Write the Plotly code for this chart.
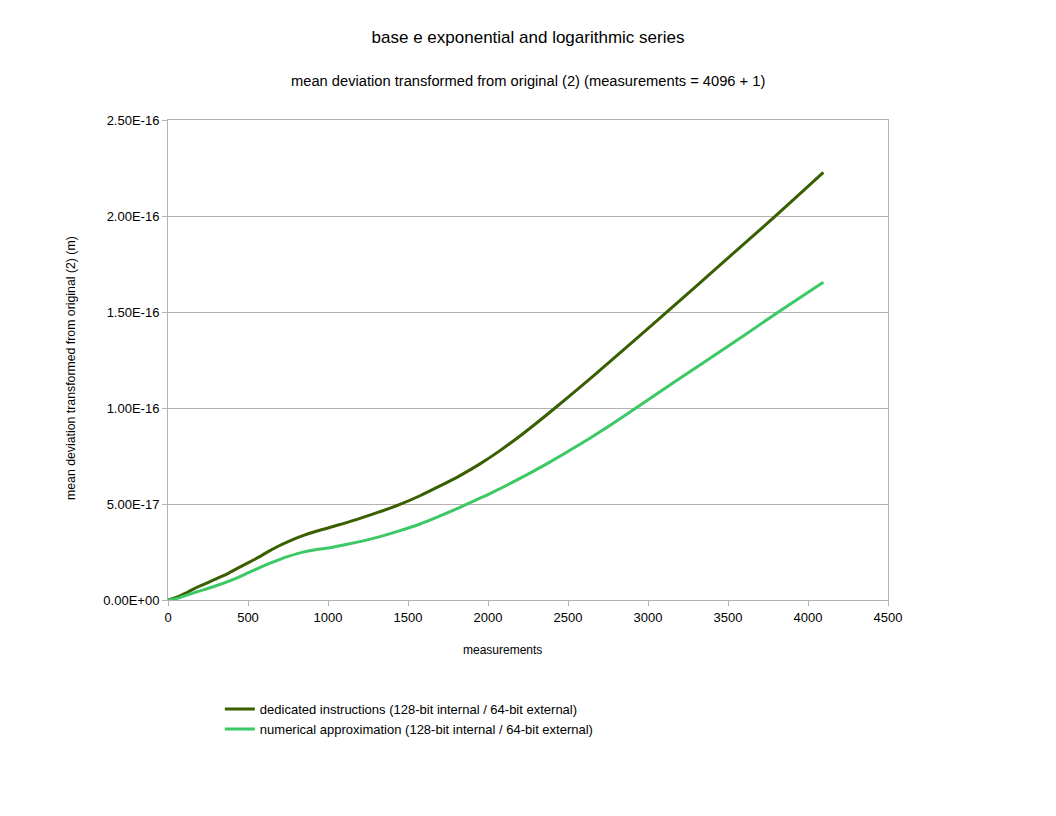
import plotly.graph_objects as go

# values (y in units of 1e-17 m)
dedicated_x = [0, 64, 127, 189, 252, 314, 377, 439, 500, 564, 626, 689, 751, 814, 876, 939,
               1001, 1075, 1200, 1325, 1450, 1575, 1700, 1825, 1950, 2075, 2200, 2325, 2419,
               2679, 2992, 3300, 3600, 3794, 4096]
dedicated_y = [0, 0.17, 0.43, 0.69, 0.92, 1.15, 1.39, 1.67, 1.93, 2.22, 2.52, 2.80, 3.04, 3.26,
               3.45, 3.61, 3.75, 3.93, 4.25, 4.60, 4.98, 5.43, 5.94, 6.48, 7.09, 7.78, 8.54,
               9.36, 10.0, 11.82, 14.08, 16.34, 18.55, 19.98, 22.27]

numerical_x = [0, 64, 127, 189, 252, 314, 377, 439, 500, 564, 626, 689, 751, 814, 876, 939,
               1001, 1075, 1200, 1325, 1450, 1575, 1700, 1825, 1950, 2012, 2179, 2367, 2575,
               2783, 2925, 3200, 3367, 3600, 3815, 4096]
numerical_y = [0, 0.10, 0.28, 0.45, 0.61, 0.78, 0.97, 1.18, 1.41, 1.65, 1.88, 2.08, 2.27, 2.43,
               2.55, 2.64, 2.71, 2.83, 3.04, 3.30, 3.61, 3.96, 4.38, 4.83, 5.30, 5.54, 6.24,
               7.09, 8.11, 9.21, 10.0, 11.55, 12.47, 13.78, 15.0, 16.55]

y_ticks = [0, 5e-17, 1e-16, 1.5e-16, 2e-16, 2.5e-16]
y_labels = ["0.00E+00", "5.00E-17", "1.00E-16", "1.50E-16", "2.00E-16", "2.50E-16"]

FONT = "Liberation Sans, Arial, sans-serif"

fig = go.Figure()
fig.add_trace(go.Scatter(x=dedicated_x, y=[v * 1e-17 for v in dedicated_y],
                         mode="lines", line_shape="spline",
                         name="dedicated instructions (128-bit internal / 64-bit external)",
                         line=dict(color="#3a5f00", width=3)))
fig.add_trace(go.Scatter(x=numerical_x, y=[v * 1e-17 for v in numerical_y],
                         mode="lines", line_shape="spline",
                         name="numerical approximation (128-bit internal / 64-bit external)",
                         line=dict(color="#3cc864", width=3)))

fig.update_layout(
    width=1040, height=800,
    margin=dict(l=160, r=160, t=112, b=208),
    paper_bgcolor="white", plot_bgcolor="white",
    font=dict(family=FONT, size=12, color="black"),
    title=dict(text="base e exponential and logarithmic series", x=0.5, xanchor="center",
               y=1 - 29 / 800, yanchor="middle", yref="container",
               font=dict(size=17, family=FONT)),
    annotations=[
        dict(text="mean deviation transformed from original (2) (measurements = 4096 + 1)",
             xref="paper", yref="paper", x=0.5, y=(600 - 81) / 480,
             xanchor="center", yanchor="middle", showarrow=False,
             font=dict(size=14.7, family=FONT)),
        # axis titles (offset from the plot centre, as in the original)
        dict(text="measurements", xref="paper", yref="paper",
             x=(502 - 168) / 720, y=(600 - 650) / 480,
             xanchor="center", yanchor="middle", showarrow=False,
             font=dict(size=12, family=FONT)),
        dict(text="mean deviation transformed from original (2) (m)", xref="paper", yref="paper",
             x=(71 - 168) / 720, y=(600 - 368) / 480, textangle=-90,
             xanchor="center", yanchor="middle", showarrow=False,
             font=dict(size=12.3, family=FONT)),
    ],
    legend=dict(x=0.072, y=-0.196, xanchor="left", yanchor="top", orientation="v",
                font=dict(size=13, family=FONT), tracegroupgap=0),
    showlegend=True,
)
fig.update_xaxes(range=[0, 4500], dtick=500, tick0=0, showgrid=False, zeroline=False,
                 showline=True, linecolor="#b3b3b3", linewidth=1, mirror=True,
                 ticks="outside", ticklen=5, tickcolor="#b3b3b3",
                 tickfont=dict(size=13))
fig.update_yaxes(range=[0, 2.5e-16], tickvals=y_ticks, ticktext=y_labels,
                 showgrid=True, gridcolor="#b3b3b3", zeroline=False,
                 showline=True, linecolor="#b3b3b3", linewidth=1, mirror=True,
                 ticks="outside", ticklen=5, tickcolor="#b3b3b3",
                 tickfont=dict(size=13))

fig.write_html("out.html")
